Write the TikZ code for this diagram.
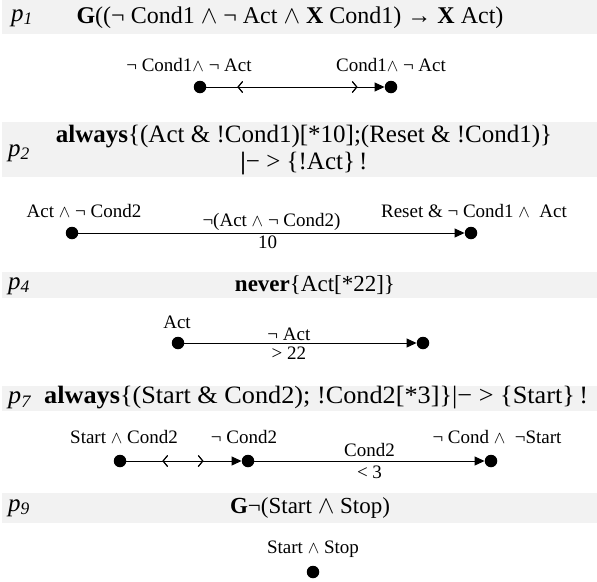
\documentclass[tikz,border=0pt]{standalone}
\usepackage{fontspec}
\setmainfont{Liberation Serif}
\usetikzlibrary{arrows.meta,decorations.markings}
\definecolor{bargray}{HTML}{F2F2F2}
\newcommand{\AND}{\ensuremath{\wedge}}
\newcommand{\pl}[1]{{\itshape p\textsubscript{#1}}}
\tikzset{
  bar/.style={fill=bargray,draw=none},
  title/.style={font=\fontsize{25}{29}\selectfont,inner sep=0pt},
  smalltitle/.style={font=\fontsize{23}{27}\selectfont,inner sep=0pt},
  plab/.style={font=\fontsize{25}{29}\selectfont,inner sep=0pt},
  lab/.style={font=\fontsize{19}{22}\selectfont,inner sep=0pt},
  dot/.style={circle,fill=black,inner sep=0pt,minimum size=12.5pt},
  conn/.style={line width=1pt,-{Triangle[length=10pt,width=9pt]}},
  chev/.style={decoration={markings,
     mark=at position #1 with {\arrowreversed{Straight Barb[length=4.5pt,width=11pt,line width=1pt]}}},postaction=decorate},
  chevf/.style={decoration={markings,
     mark=at position #1 with {\arrow{Straight Barb[length=4.5pt,width=11pt,line width=1pt]}}},postaction=decorate},
}
\begin{document}
\begin{tikzpicture}[x=1pt,y=-1pt]
\useasboundingbox (0,0) rectangle (597,581);
% ---------- p1 ----------
\fill[bar] (2,0) rectangle (597,34);
\node[plab] (p1) at (22,18) {\pl{1}};
\node[title,font=\fontsize{24}{28}\selectfont] (t1) at (290,18) {\textbf{G}((¬ Cond1 \AND{} ¬ Act \AND{} \textbf{X} Cond1) → \textbf{X} Act)};
\node[dot] (a1) at (200,87) {};
\node[dot] (b1) at (391,87) {};
\node[lab] (la1) at (189,65) {¬ Cond1\AND{} ¬ Act};
\node[lab] (lb1) at (391,65) {Cond1\AND{} ¬ Act};
\draw[conn,chev=31pt,chevf=151pt] (a1) -- (b1);
% ---------- p2 ----------
\fill[bar] (2,122) rectangle (597,177);
\node[plab] (p2) at (19,153) {\pl{2}};
\node[title] (t2a) at (304,137) {\textbf{always}\{(Act \& !Cond1)[*10];(Reset \& !Cond1)\}};
\node[title] (t2b) at (304,164) {\textbf{|}− > \{!Act\}\,!};
\node[dot] (a2) at (72,233) {};
\node[dot] (b2) at (471,233) {};
\node[lab] (la2) at (84,211) {Act \AND{} ¬ Cond2};
\node[lab] (lb2) at (474,211) {Reset \& ¬ Cond1 \AND{}\ \ Act};
\draw[conn] (a2) -- node[lab,above=2pt,pos=0.5] (e2) {¬(Act \AND{} ¬ Cond2)} node[lab,below=2pt,pos=0.49] (f2) {10} (b2);
% ---------- p4 ----------
\fill[bar] (2,272) rectangle (597,298);
\node[plab] (p4) at (19,286) {\pl{4}};
\node[smalltitle] (t4) at (315,285) {\textbf{never}\{Act[*22]\}};
\node[dot] (a4) at (178,343) {};
\node[dot] (b4) at (423,343) {};
\node[lab] (la4) at (177,322) {Act};
\draw[conn] (a4) -- node[lab,above=2pt,pos=0.45] (e4) {¬ Act} node[lab,below=3pt,pos=0.45] (f4) {> 22} (b4);
% ---------- p7 ----------
\fill[bar] (2,386) rectangle (597,411);
\node[title,anchor=west] (t7) at (8,398) {\scalebox{1.05}[1]{\pl{7}\ \ \textbf{always}\{(Start \& Cond2); !Cond2[*3]\}|− > \{Start\}\,!}};
\node[dot] (a7) at (120,461) {};
\node[dot] (b7) at (248,461) {};
\node[dot] (c7) at (491,461) {};
\node[lab] (la7) at (124,437) {Start \AND{} Cond2};
\node[lab] (lb7) at (244,437) {¬ Cond2};
\node[lab] (lc7) at (497,437) {¬ Cond \AND{}\ \ ¬Start};
\draw[conn,chev=36pt,chevf=77pt] (a7) -- (b7);
\draw[conn] (b7) -- node[lab,above=4pt] (e7) {Cond2} node[lab,below=4pt] (f7) {< 3} (c7);
% ---------- p9 ----------
\fill[bar] (2,493) rectangle (597,523);
\node[plab] (p9) at (19,508) {\pl{9}};
\node[smalltitle] (t9) at (310,508) {\textbf{G}¬(Start \AND{} Stop)};
\node[dot] (a9) at (313,572) {};
\node[lab] (la9) at (313,549) {Start \AND{} Stop};
\end{tikzpicture}
\end{document}
